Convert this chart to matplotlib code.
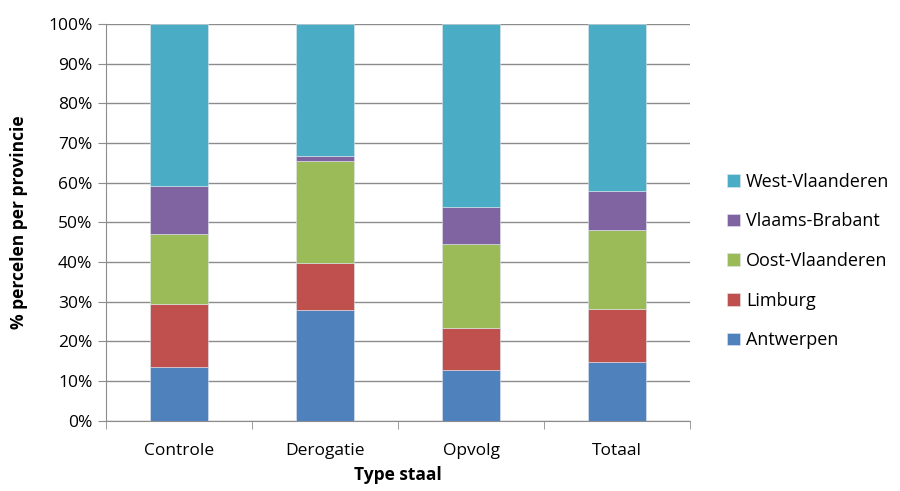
import matplotlib
matplotlib.use("Agg")
import matplotlib.pyplot as plt
import matplotlib.ticker as ticker
import numpy as np

plt.rcParams['font.family'] = ['Open Sans', 'DejaVu Sans']

categories = ["Controle", "Derogatie", "Opvolg", "Totaal"]
provinces = ["Antwerpen", "Limburg", "Oost-Vlaanderen", "Vlaams-Brabant", "West-Vlaanderen"]
antwerpen = [13.5, 28.0, 12.8, 14.9]
limburg = [15.9, 11.7, 10.7, 13.2]
oost_vlaanderen = [17.7, 25.9, 21.1, 19.9]
vlaams_brabant = [12.0, 1.2, 9.2, 9.8]
west_vlaanderen = [40.9, 33.2, 46.2, 42.2]
colors = ["#4F81BD", "#C0504D", "#9BBB59", "#8064A2", "#4BACC6"]

series = [antwerpen, limburg, oost_vlaanderen, vlaams_brabant, west_vlaanderen]

fig = plt.figure(figsize=(9, 4.91), dpi=100)
ax = fig.add_axes([0.118, 0.143, 0.649, 0.808])

x = np.arange(len(categories))
bottom = np.zeros(len(categories))
for vals, name, col in zip(series, provinces, colors):
    ax.bar(x, vals, 0.4, bottom=bottom, color=col, label=name,
           edgecolor="#dfe6ee", linewidth=0.4, zorder=3)
    bottom += np.array(vals)

ax.set_xlim(-0.5, len(categories) - 0.5)
ax.set_ylim(0, 100)
ax.yaxis.set_major_locator(ticker.MultipleLocator(10))
ax.yaxis.set_major_formatter(ticker.FuncFormatter(lambda v, p: f"{v:.0f}%"))
ax.grid(axis="y", color="#8c8c8c", linewidth=1, zorder=0)

ax.set_xticks(x)
ax.set_xticklabels(categories)
ax.set_xticks(np.arange(-0.5, len(categories)), minor=True)
ax.tick_params(axis="x", which="major", length=0, pad=16, labelsize=12.5)
ax.tick_params(axis="x", which="minor", length=6, color="#8c8c8c", direction="out")
ax.tick_params(axis="y", length=6, color="#8c8c8c", labelsize=12.5, pad=4)

for side in ["top", "right"]:
    ax.spines[side].set_visible(False)
for side in ["left", "bottom"]:
    ax.spines[side].set_color("#8c8c8c")

ax.set_xlabel("Type staal", fontsize=12.5, fontweight="bold", labelpad=5)
ax.set_ylabel("% percelen per provincie", fontsize=12.5, fontweight="bold", labelpad=14)

handles, labels = ax.get_legend_handles_labels()
ax.legend(handles[::-1], labels[::-1], loc="center left", bbox_to_anchor=(1.035, 0.403),
          frameon=False, fontsize=13, handlelength=0.7, handleheight=0.7,
          handletextpad=0.35, labelspacing=1.2)

fig.savefig("out.png", dpi=100)
